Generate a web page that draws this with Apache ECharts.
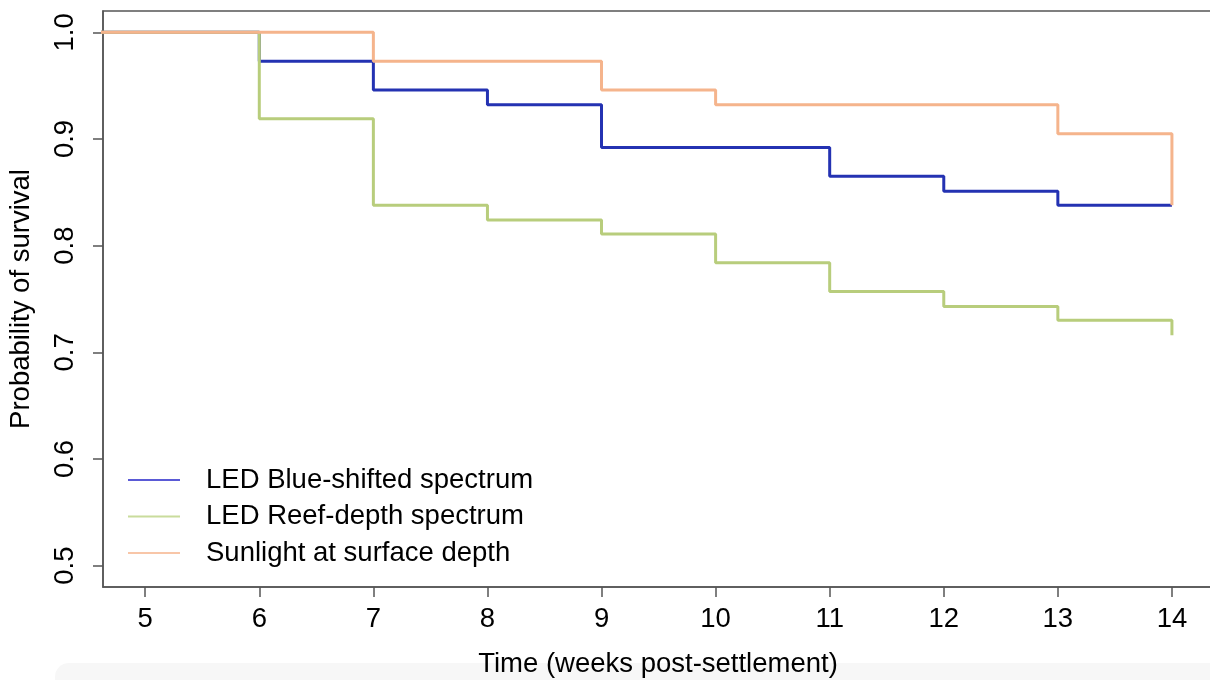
<!DOCTYPE html>
<html>
<head>
<meta charset="utf-8">
<script src="https://cdn.jsdelivr.net/npm/echarts@6/dist/echarts.min.js"></script>
<style>
  html, body { margin: 0; padding: 0; background: #fff; }
  #chart { width: 1210px; height: 680px; }
</style>
</head>
<body>
<div id="chart"></div>
<script>
const xTicks = [5, 6, 7, 8, 9, 10, 11, 12, 13, 14]
const yTicks = [0.5, 0.6, 0.7, 0.8, 0.9, 1.0]

// Kaplan-Meier steps: [week, survival after the event]
const blueShifted = [[0, 1], [6, 0.973], [7, 0.946], [8, 0.932], [9, 0.892], [11, 0.865], [12, 0.851], [13, 0.838], [14, 0.838]]
const reefDepth = [[0, 1], [6, 0.919], [7, 0.838], [8, 0.824], [9, 0.811], [10, 0.784], [11, 0.757], [12, 0.743], [13, 0.730], [14, 0.716]]
const sunlight = [[0, 1], [7, 0.973], [9, 0.946], [10, 0.932], [13, 0.905], [14, 0.838]]

const names = ['LED Blue-shifted spectrum', 'LED Reef-depth spectrum', 'Sunlight at surface depth']
const lineColors = ['#2432b2', '#b8cd7c', '#f5b48c']
const legendColors = ['#5a5ad6', '#c9dc9c', '#f8c6a8']

const font = '"Liberation Sans", Arial, Helvetica, sans-serif'
const fontSize = 27.5

const chart = echarts.init(document.getElementById('chart'), null, { renderer: 'canvas' })

const series = [blueShifted, reefDepth, sunlight].map((data, i) => ({
  name: names[i],
  type: 'line',
  step: 'end',
  data,
  showSymbol: false,
  clip: true,
  lineStyle: { color: lineColors[i], width: 3 },
  itemStyle: { color: lineColors[i] },
  emphasis: { disabled: true },
}))

chart.setOption({
  animation: false,
  backgroundColor: '#fff',
  textStyle: { fontFamily: font },
  grid: {
    left: 103,
    top: 11,
    width: 1110,
    height: 576,
    outerBoundsMode: 'none',
    containLabel: false,
    show: true,
    borderColor: '#555',
    borderWidth: 1.5,
  },
  legend: {
    orient: 'vertical',
    left: 123,
    top: 461,
    icon: 'rect',
    itemWidth: 52,
    itemHeight: 2,
    itemGap: 8.5,
    data: names.map((n, i) => ({ name: n, itemStyle: { color: legendColors[i] } })),
    textStyle: {
      fontFamily: font,
      fontSize,
      lineHeight: 27.5,
      color: '#000',
      padding: [0, 0, 0, 21],
    },
  },
  xAxis: {
    type: 'value',
    min: 4.63,
    max: 14.36,
    name: 'Time (weeks post-settlement)',
    nameLocation: 'middle',
    nameGap: 63,
    nameTextStyle: { fontFamily: font, fontSize, color: '#000' },
    splitLine: { show: false },
    axisLine: { show: true, onZero: false, lineStyle: { color: '#555', width: 1.5 } },
    axisTick: { show: true, length: 10, customValues: xTicks, lineStyle: { color: '#555', width: 1.5 } },
    axisLabel: {
      customValues: xTicks,
      margin: 18,
      fontFamily: font,
      fontSize,
      color: '#000',
    },
  },
  yAxis: {
    type: 'value',
    min: 0.48,
    max: 1.02,
    name: 'Probability of survival',
    nameLocation: 'middle',
    nameGap: 68,
    nameRotate: 90,
    nameTextStyle: { fontFamily: font, fontSize, color: '#000' },
    splitLine: { show: false },
    axisLine: { show: true, lineStyle: { color: '#555', width: 1.5 } },
    axisTick: { show: true, length: 10, customValues: yTicks, lineStyle: { color: '#555', width: 1.5 } },
    axisLabel: {
      customValues: yTicks,
      rotate: 90,
      margin: 24,
      fontFamily: font,
      fontSize,
      color: '#000',
      formatter: v => v.toFixed(1),
    },
  },
  graphic: [{
    type: 'rect',
    silent: true,
    z: -10,
    shape: { x: 55, y: 663, width: 1160, height: 20, r: [14, 0, 0, 0] },
    style: { fill: '#f7f7f7' },
  }],
  series,
})
</script>
</body>
</html>
